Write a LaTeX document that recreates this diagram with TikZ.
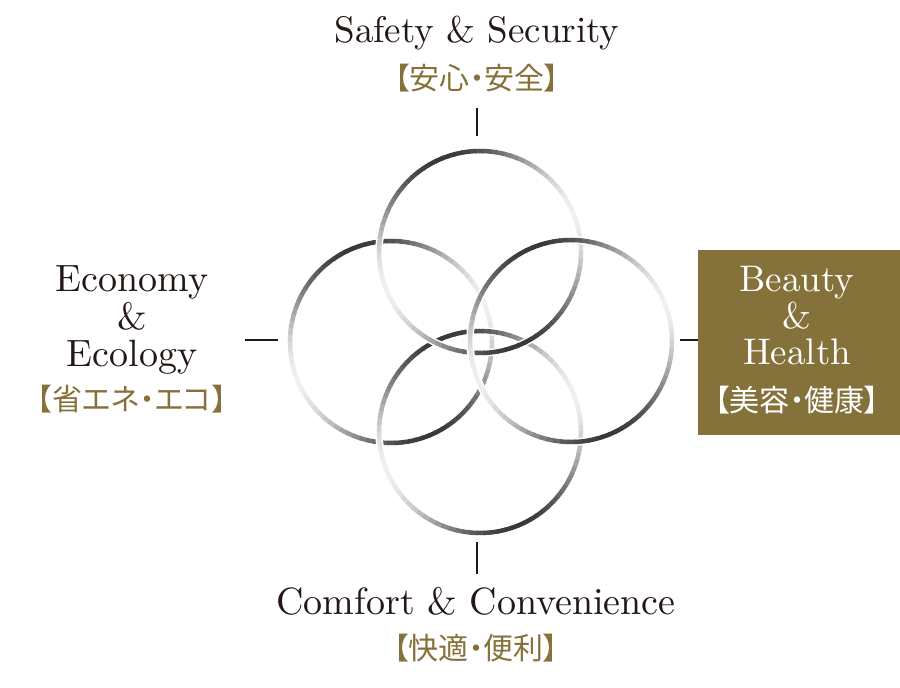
\documentclass[tikz,border=0pt]{standalone}
\usepackage{fontspec}
\setmainfont{lmroman10-regular.otf}
\newfontfamily\jpfont{Noto Sans CJK JP}[RawFeature=+palt]
\usetikzlibrary{positioning}
\definecolor{gold}{RGB}{133,113,58}
\definecolor{ink}{RGB}{35,24,21}

\begin{document}
\begin{tikzpicture}[x=1pt,y=1pt,
    en/.style={font=\fontsize{38}{37.5}\selectfont, text=ink, align=center, inner sep=0pt},
    jp/.style={font=\jpfont\fontsize{30}{30}\selectfont, text=gold, inner sep=0pt},
    tick/.style={ink, line width=2.5pt},
    ring/.style={line width=4.5pt}]
    \useasboundingbox[fill=white] (0,0) rectangle (900,688);

    % the four rings
    \coordinate (rl) at (391,346);
    \coordinate (rb) at (480,256);
    \coordinate (rt) at (480,436);
    \coordinate (rr) at (571,347);
    \foreach \c in {rl,rb,rt,rr}{
        \draw[white, line width=7.5pt] (\c) circle[radius=101pt];
        \foreach \a in {0,4,...,356}{
            \pgfmathsetmacro\k{6+72*(1-cos(2*(\a-20)))/2}
            \draw[ring, black!\k] ([shift={(\a:101)}]\c) arc[start angle=\a, delta angle=4.6, radius=101pt];
        }
    }

    % labels
    \node[en, font=\fontsize{37}{37}\selectfont, anchor=base] (safety) at (477,645) {Safety \& Security};
    \node[jp] (safetyjp) at (477,610) {【安心・安全】};

    \node[en, anchor=base] (eco) at (132,321) {Economy\\\&\\Ecology};
    \node[jp] (ecojp) at (132,289) {【省エネ・エコ】};

    \node[fill=gold, minimum width=202pt, minimum height=185pt, inner sep=0pt] (box) at (799,345.5) {};
    \node[en, font=\fontsize{37}{36.5}\selectfont, text=white, anchor=base] (beauty) at (797,323) {Beauty\\\&\\Health};
    \node[jp, text=white] (beautyjp) at (797,288) {【美容・健康】};

    \node[en, anchor=base] (comfort) at (476,73) {Comfort \& Convenience};
    \node[jp] (comfortjp) at (476,40) {【快適・便利】};

    % ticks
    \coordinate (t1) at (477,580); \coordinate (t2) at (477,552);
    \coordinate (b1) at (477,146); \coordinate (b2) at (477,114);
    \coordinate (l1) at (245,348); \coordinate (l2) at (278,348);
    \coordinate (r1) at (680,348);
    \draw[tick] (t1) -- (t2);
    \draw[tick] (b1) -- (b2);
    \draw[tick] (l1) -- (l2);
    \draw[tick] (r1) -- (box.west |- r1);
\end{tikzpicture}
\end{document}
